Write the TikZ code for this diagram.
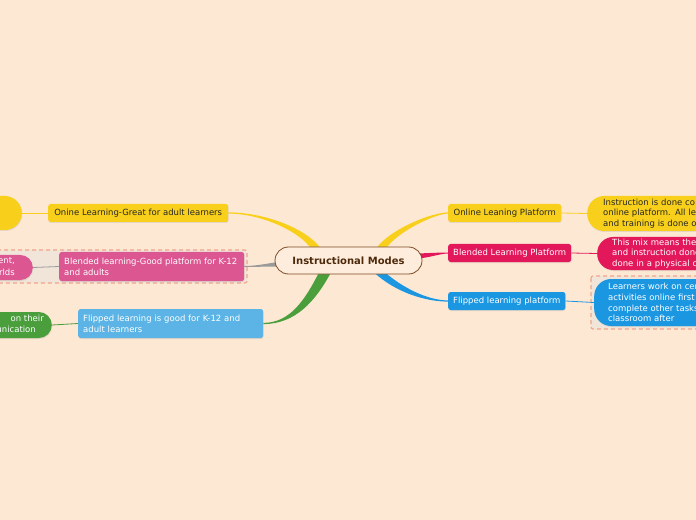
\documentclass[tikz,border=0pt]{standalone}
\usepackage{fontspec}
\setmainfont{DejaVu Sans}
\usetikzlibrary{calc,shadows}
\definecolor{bgc}{HTML}{FDE8D3}
\definecolor{yel}{HTML}{F8D01B}
\definecolor{crim}{HTML}{E2185B}
\definecolor{blu}{HTML}{1B97E2}
\definecolor{pnk}{HTML}{DC5692}
\definecolor{lblu}{HTML}{5BB4E5}
\definecolor{grn}{HTML}{4A9E3C}
\definecolor{gry}{HTML}{9A9A9A}
\definecolor{cbord}{HTML}{7B4A22}
\definecolor{ctext}{HTML}{4E2A0C}
\definecolor{cfill}{HTML}{FEEDDC}
\definecolor{dbfill}{HTML}{F1E5D9}
\definecolor{dbline}{HTML}{EEA58B}
\definecolor{dtext}{HTML}{262626}
\pgfdeclarelayer{back}
\pgfdeclarelayer{conn}
\pgfsetlayers{back,conn,main}
\begin{document}
\begin{tikzpicture}[x=1bp,y=-1bp,
  txt/.style={font=\fontsize{8.5bp}{10.8bp}\selectfont},
  shad/.style={drop shadow={shadow xshift=0.5bp,shadow yshift=-1bp,opacity=0.18}},
  topic/.style={txt,shad,rectangle,rounded corners=2.5bp,inner xsep=5bp,inner ysep=0pt,align=left,minimum height=18bp},
  leaf/.style={txt,shad,rectangle,inner ysep=0pt,align=left},
  dbox/.style={fill=dbfill,draw=dbline,line width=1.1bp,dash pattern=on 4bp off 3bp,rounded corners=2bp},
  thin/.style={line width=0.8bp}]
\useasboundingbox (0,0) rectangle (696,520);
\clip (0,0) rectangle (696,520);
\begin{pgfonlayer}{back}
\fill[bgc] (0,0) rectangle (696,520);
\draw[dbox] (-20,250) rectangle (247,283);
\draw[dbox] (591,276) rectangle (720,329);
\end{pgfonlayer}
% central
\node[font=\fontsize{10bp}{12bp}\selectfont\bfseries,text=ctext,draw=cbord,line width=0.8bp,fill=cfill,rounded corners=13.5bp,minimum width=147bp,minimum height=27bp,inner sep=0pt] (c) at (348.5,260.5) {Instructional Modes};
% right topics
\node[topic,fill=yel,text=dtext,minimum width=113bp,anchor=west] (on1) at (448,213) {Online Leaning Platform};
\node[topic,fill=crim,text=white,minimum width=123bp,anchor=west] (bl1) at (448,253) {Blended Learning Platform};
\node[topic,fill=blu,text=white,minimum width=117bp,anchor=west] (fl1) at (448,301) {Flipped learning platform};
% right leaves
\node[leaf,fill=yel,text=dtext,rounded corners=17bp,inner xsep=16bp,text width=170bp,minimum height=35bp,anchor=west] (on2) at (587,213.5) {Instruction is done co\\online platform. All les\\and training is done o};
\node[leaf,fill=crim,text=white,rounded corners=16bp,inner xsep=15bp,text width=170bp,minimum height=33bp,anchor=west] (bl2) at (597,253.5) {This mix means there\\and instruction done\\done in a physical cla};
\node[leaf,fill=blu,text=white,rounded corners=17bp,inner xsep=14bp,text width=170bp,minimum height=47bp,anchor=west] (fl2) at (594,302.5) {Learners work on cer\\activities online first\\complete other tasks\\classroom after};
% left topics
\node[topic,fill=yel,text=dtext,minimum width=180bp,anchor=west] (ol1) at (48,213) {Onine Learning-Great for adult learners};
\node[topic,fill=pnk,text=white,text width=175bp,minimum height=29bp,anchor=west] (bl1L) at (59,266.5) {Blended learning-Good platform for K-12\\and adults};
\node[topic,fill=lblu,text=white,text width=175bp,minimum height=29bp,anchor=west] (fl1L) at (78,323.5) {Flipped learning is good for K-12 and\\adult learners};
% left leaves
\node[leaf,fill=yel,rounded corners=17bp,minimum width=170bp,minimum height=34bp,anchor=east] (ol0) at (22,213) {};
\node[leaf,fill=pnk,rounded corners=12.5bp,minimum width=170bp,minimum height=25bp,anchor=east] (bl0) at (33,267.5) {};
\node[leaf,fill=grn,rounded corners=13bp,minimum width=170bp,minimum height=26bp,anchor=east] (fl0) at (52,325) {};
\node[txt,text=white,anchor=base east,inner sep=0pt] (bl0a) at (15,264) {ent,};
\node[txt,text=white,anchor=base east,inner sep=0pt] (bl0b) at (15,275.5) {rlds};
\node[txt,text=white,anchor=base east,inner sep=0pt] (fl0a) at (44,321.5) {on their};
\node[txt,text=white,anchor=base east,inner sep=0pt] (fl0b) at (36,332.5) {unication};
\begin{pgfonlayer}{conn}
% tapered main branches
\fill[yel] ($(c.north)+(-37.5,2)$) .. controls (300,232) and (262,213.6) .. ($(ol1.east)+(0,0.6)$) -- ($(ol1.east)+(0,-0.6)$) .. controls (264,212.4) and (306,228) .. ($(c.north)+(-27.5,2)$) -- cycle;
\fill[yel] ($(c.north)+(37.5,2)$) .. controls (397,232) and (435,213.6) .. ($(on1.west)+(0,0.6)$) -- ($(on1.west)+(0,-0.6)$) .. controls (433,212.4) and (391,228) .. ($(c.north)+(27.5,2)$) -- cycle;
\fill[crim] ($(c.east)+(-4,-7)$) .. controls (430,253) and (440,252.5) .. ($(bl1.west)+(0,-0.5)$) -- ($(bl1.west)+(0,0.5)$) .. controls (440,253.6) and (430,257.5) .. ($(c.east)+(-4,-2)$) -- cycle;
\fill[blu] ($(c.south)+(25.5,-2)$) .. controls (395,292) and (425,301.6) .. ($(fl1.west)+(0,0.6)$) -- ($(fl1.west)+(0,-0.6)$) .. controls (428,300.4) and (403,288) .. ($(c.south)+(36.5,-2)$) -- cycle;
\fill[gry] ($(c.west)+(3,1.5)$) .. controls (265,264) and (255,266) .. ($(bl1L.east)+(0,-0.5)$) -- ($(bl1L.east)+(0,0.5)$) .. controls (255,267) and (265,266.5) .. ($(c.west)+(3,6)$) -- cycle;
\fill[grn] ($(c.south)+(-29.5,-2)$) .. controls (305,300) and (290,322.9) .. ($(fl1L.east)+(0,-0.6)$) -- ($(fl1L.east)+(0,0.6)$) .. controls (295,324) and (315,302) .. ($(c.south)+(-17.5,-2)$) -- cycle;
% leaf connectors
\draw[thin,yel] (ol1.west) -- (ol0.east);
\draw[thin,gry] (bl1L.west) -- (bl0.east);
\draw[thin,grn] (fl1L.west) -- (fl0.east);
\draw[thin,yel] (on1.east) -- (on2.west);
\draw[thin,crim] (bl1.east) -- (bl2.west);
\draw[thin,blu] (fl1.east) -- (fl2.west);
\end{pgfonlayer}
\end{tikzpicture}
\end{document}
